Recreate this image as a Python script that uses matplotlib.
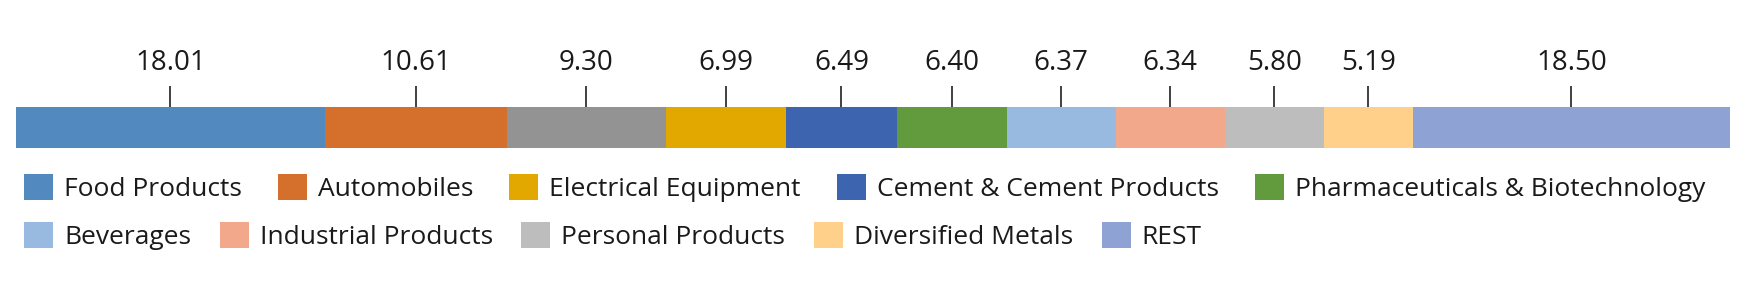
import matplotlib.pyplot as plt
import numpy as np

plt.rcParams['font.family'] = ['Open Sans', 'DejaVu Sans']

# sector weights, left to right along the bar (the grey one has no legend entry)
sectors = ['Food Products', 'Automobiles', None, 'Electrical Equipment',
           'Cement & Cement Products', 'Pharmaceuticals & Biotechnology', 'Beverages',
           'Industrial Products', 'Personal Products', 'Diversified Metals', 'REST']
weights = [18.01, 10.61, 9.30, 6.99, 6.49, 6.40, 6.37, 6.34, 5.80, 5.19, 18.50]
colors = ['#5289bf', '#d4702c', '#939393', '#e3a800', '#3d64ae', '#629b3e',
          '#98b9e0', '#f2a98b', '#bdbdbd', '#ffd089', '#8fa2d4']
legend_rows = [sectors[:2] + sectors[3:6], sectors[6:]]

W, H = 1747, 282
fig = plt.figure(figsize=(W / 100, H / 100), dpi=100)
# axis in pixel units vertically, percent horizontally
ax = fig.add_axes([16 / W, 0, 1714 / W, 1])
ax.set_xlim(0, sum(weights))
ax.set_ylim(H, 0)
ax.axis('off')

left = np.concatenate([[0], np.cumsum(weights)[:-1]])
centers = left + np.asarray(weights) / 2
bars = ax.barh(127.5, weights, left=left, height=41, color=colors, linewidth=0)
ax.vlines(centers, 86, 107, color='#404040', lw=1.4)
for x, w in zip(centers, weights):
	ax.text(x, 70, f'{w:.2f}', ha='center', va='baseline', fontsize=20, color='#1a1a1a')

handles = dict(zip(sectors, bars))
for row, y, gap in zip(legend_rows, [188, 236], [1.36, 1.08]):
	leg = fig.legend([handles[s] for s in row], row, loc='center left',
	                 bbox_to_anchor=(24 / W, 1 - y / H), ncol=len(row), frameon=False,
	                 fontsize=19, handlelength=1.1, handleheight=1.1, handletextpad=0.42,
	                 columnspacing=gap, borderpad=0, borderaxespad=0)
	for t in leg.get_texts():
		t.set_color('#1a1a1a')

fig.savefig('out.png', dpi=100)
